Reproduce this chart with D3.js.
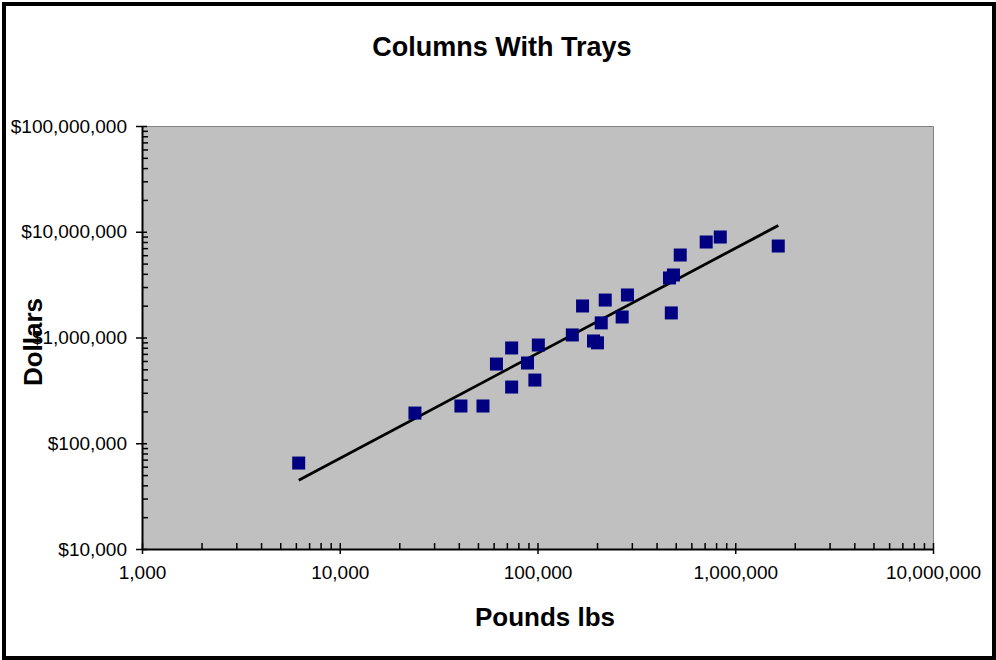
<!DOCTYPE html>
<html>
<head>
<meta charset="utf-8">
<script src="https://cdn.jsdelivr.net/npm/d3@7"></script>
<style>
  html, body { margin: 0; padding: 0; background: #fff; }
  svg { display: block; font-family: Arial, "Liberation Sans", sans-serif; }
</style>
</head>
<body>
<svg id="chart" width="996" height="660"></svg>
<script>
const chartTitle = "Columns With Trays";
const xTitle = "Pounds lbs";
const yTitle = "Dollars";

const pounds  = [6200, 24000, 41000, 53000, 62000, 74000, 74000, 89000, 97000, 101000,
                 150000, 169000, 192000, 201000, 210000, 220000, 268000, 285000,
                 475000, 465000, 487000, 527000, 713000, 840000, 1650000];
const dollars = [65000, 193000, 225000, 225000, 561000, 796000, 340000, 574000, 396000, 849000,
                 1057000, 1986000, 927000, 890000, 1375000, 2260000, 1563000, 2524000,
                 1707000, 3656000, 3899000, 6026000, 8000000, 8916000, 7330000];

const xTicks = [1e3, 1e4, 1e5, 1e6, 1e7];
const yTicks = [1e4, 1e5, 1e6, 1e7, 1e8];

const svg = d3.select("#chart");
const W = 996, H = 660;
const plot = { left: 142, right: 933, top: 126, bottom: 549 };

// outer border
svg.append("rect").attr("x", 4).attr("y", 4).attr("width", W - 6).attr("height", H - 6)
  .attr("fill", "#fff").attr("stroke", "#000").attr("stroke-width", 4);

const x = d3.scaleLog().domain([1e3, 1e7]).range([plot.left, plot.right]);
const y = d3.scaleLog().domain([1e4, 1e8]).range([plot.bottom, plot.top]);

// plot area
svg.append("rect").attr("x", plot.left).attr("y", plot.top)
  .attr("width", plot.right - plot.left).attr("height", plot.bottom - plot.top)
  .attr("fill", "#c0c0c0");
svg.append("path")
  .attr("d", `M${plot.left},${plot.top + 0.5}H${plot.right + 0.5}V${plot.bottom}`)
  .attr("fill", "none").attr("stroke", "#808080").attr("stroke-width", 1);

function minors(majors) {
  const out = [];
  for (let i = 0; i < majors.length - 1; i++)
    for (let k = 2; k <= 9; k++) out.push(majors[i] * k);
  return out;
}

const fmt = d3.format(",");

// x axis minor
svg.append("g").attr("transform", `translate(0,${plot.bottom})`)
  .call(d3.axisBottom(x).tickValues(minors(xTicks)).tickSize(-6).tickFormat(""))
  .call(g => g.select(".domain").remove())
  .call(g => g.selectAll(".tick line").attr("stroke", "#000").attr("stroke-width", 1.5));
// x axis major
svg.append("g").attr("transform", `translate(0,${plot.bottom})`)
  .call(d3.axisBottom(x).tickValues(xTicks).tickSize(5).tickSizeOuter(0).tickPadding(12).tickFormat(fmt))
  .call(g => g.select(".domain").attr("stroke", "#000").attr("stroke-width", 2))
  .call(g => g.selectAll(".tick line").attr("y1", -6).attr("stroke", "#000").attr("stroke-width", 1.5))
  .call(g => g.selectAll(".tick text").attr("font-size", 19).attr("fill", "#000")
    .attr("font-family", "Arial, 'Liberation Sans', sans-serif"));

// y axis minor
svg.append("g").attr("transform", `translate(${plot.left},0)`)
  .call(d3.axisLeft(y).tickValues(minors(yTicks)).tickSize(-6).tickFormat(""))
  .call(g => g.select(".domain").remove())
  .call(g => g.selectAll(".tick line").attr("stroke", "#000").attr("stroke-width", 1.5));
// y axis major
svg.append("g").attr("transform", `translate(${plot.left},0)`)
  .call(d3.axisLeft(y).tickValues(yTicks).tickSize(6).tickSizeOuter(0).tickPadding(9)
    .tickFormat(d => "$" + fmt(d)))
  .call(g => g.select(".domain").attr("stroke", "#000").attr("stroke-width", 2))
  .call(g => g.selectAll(".tick line").attr("x1", 5).attr("stroke", "#000").attr("stroke-width", 1.5))
  .call(g => g.selectAll(".tick text").attr("font-size", 19).attr("fill", "#000")
    .attr("font-family", "Arial, 'Liberation Sans', sans-serif"));

// trend line: least squares fit in log-log space (power trendline)
const lx = pounds.map(Math.log10), ly = dollars.map(Math.log10);
const mx = d3.mean(lx), my = d3.mean(ly);
const slope = d3.sum(lx, (v, i) => (v - mx) * (ly[i] - my)) / d3.sum(lx, v => (v - mx) ** 2);
const icpt = my - slope * mx;
const xr = d3.extent(pounds);
const trend = xr.map(v => [v, Math.pow(10, icpt + slope * Math.log10(v))]);
svg.append("path")
  .attr("d", d3.line().x(d => x(d[0])).y(d => y(d[1]))(trend))
  .attr("fill", "none").attr("stroke", "#000").attr("stroke-width", 2.8);

// points
const S = 13;
svg.append("g").selectAll("rect").data(pounds).join("rect")
  .attr("x", (d, i) => x(d) - S / 2)
  .attr("y", (d, i) => y(dollars[i]) - S / 2)
  .attr("width", S).attr("height", S)
  .attr("fill", "#000080");

// titles
svg.append("text").attr("x", 502).attr("y", 56).attr("text-anchor", "middle")
  .attr("font-size", 27).attr("font-weight", "bold").text(chartTitle);
svg.append("text").attr("x", 545).attr("y", 626).attr("text-anchor", "middle")
  .attr("font-size", 26).attr("font-weight", "bold").text(xTitle);
svg.append("text").attr("transform", "translate(42,342) rotate(-90)").attr("text-anchor", "middle")
  .attr("font-size", 26).attr("font-weight", "bold").text(yTitle);
</script>
</body>
</html>
